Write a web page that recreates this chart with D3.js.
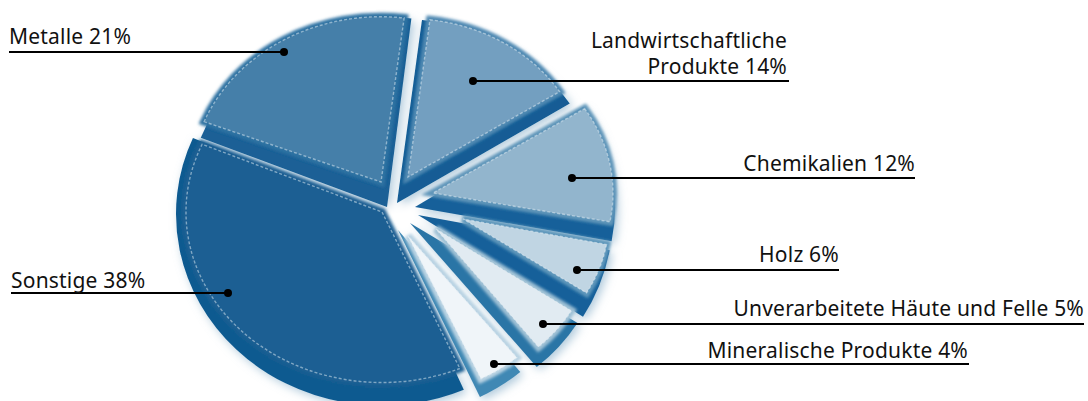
<!DOCTYPE html>
<html>
<head>
<meta charset="utf-8">
<script src="https://cdnjs.cloudflare.com/ajax/libs/d3/7.8.5/d3.min.js"></script>
<style>
html, body { margin: 0; background: #fff; }
svg { display: block; }
text { font-family: "Noto Sans", "Open Sans", sans-serif; font-size: 21px; letter-spacing: 0.2px; fill: #111; }
</style>
</head>
<body>
<svg id="chart" width="1088" height="401"></svg>
<script>
// Shares of the goods groups, clockwise from the top of the pie
const categories = ["Landwirtschaftliche Produkte", "Chemikalien", "Holz", "Unverarbeitete Häute und Felle", "Mineralische Produkte", "Sonstige", "Metalle"];
const shares = [14, 12, 6, 5, 4, 38, 21];
const labelLines = [["Landwirtschaftliche", "Produkte"], ["Chemikalien"], ["Holz"], ["Unverarbeitete Häute und Felle"], ["Mineralische Produkte"], ["Sonstige"], ["Metalle"]];

const faceColors = ["#739fc0", "#92b5cd", "#c0d5e3", "#e1ebf2", "#f0f5f9", "#1a5f93", "#457fa9"];
const edgeColors = ["#125c95", "#15609a", "#15609a", "#2a75a6", "#3f88b4", "#0f5a90", "#1a6096"];
const haloColors = ["#4f89b2", "#5e95b9", "#5f97bb", "#9fc1d6", "#b9d3e3", "#1a5f93", "#2f72a2"];

// Each slice is pulled out on its own: face and bevel have separate origins
const faces = [
  { x: 408, y: 177, r: 180, sy: 0.88, tilt: 0 },
  { x: 433, y: 193, r: 180, sy: 0.87, tilt: 0 },
  { x: 463, y: 219, r: 146, sy: 0.95, tilt: 0 },
  { x: 436, y: 229, r: 160, sy: 0.96, tilt: 0 },
  { x: 408, y: 236, r: 170, sy: 0.93, tilt: 0 },
  { x: 382, y: 212, r: 196, sy: 0.87, tilt: 2 },
  { x: 381, y: 182, r: 190, sy: 0.87, tilt: 0 }
];
const bevels = [
  { x: 397, y: 203, r: 205, sy: 0.90, tilt: 0 },
  { x: 415, y: 207, r: 200, sy: 0.93, tilt: 0 },
  { x: 418, y: 215, r: 195, sy: 0.98, tilt: 0 },
  { x: 410, y: 223, r: 198, sy: 0.947, tilt: 0 },
  { x: 398, y: 230, r: 191, sy: 0.968, tilt: 0 },
  { x: 382, y: 214, r: 206, sy: 0.93, tilt: 2 },
  { x: 387, y: 207, r: 200, sy: 0.95, tilt: 0 }
];

// Callouts: marker position, far end of the leader, first text baseline
const callouts = [
  { dot: [473, 81], end: 789, anchor: "end", tx: 787, ty: [48, 74] },
  { dot: [572, 178], end: 915, anchor: "end", tx: 915, ty: [171] },
  { dot: [577, 270], end: 839, anchor: "end", tx: 839, ty: [262] },
  { dot: [543, 324], end: 1084, anchor: "end", tx: 1084, ty: [316] },
  { dot: [494, 364], end: 969, anchor: "end", tx: 968, ty: [358] },
  { dot: [228, 293], end: 11, anchor: "start", tx: 11, ty: [288] },
  { dot: [284, 52], end: 9, anchor: "start", tx: 9, ty: [44] }
];

const svg = d3.select("#chart");
const defs = svg.append("defs");
const blur = (id, sd) => defs.append("filter").attr("id", id)
  .attr("x", "-30%").attr("y", "-30%").attr("width", "160%").attr("height", "160%")
  .append("feGaussianBlur").attr("stdDeviation", sd);
blur("glow", 5);
blur("halo", 1.8);
blur("soft", 0.45);

const startAngle = 7 * Math.PI / 180;
const pie = d3.pie().sort(null).startAngle(startAngle).endAngle(startAngle + 2 * Math.PI);
const arcs = pie(shares);
const wedge = d3.arc().innerRadius(0);
const place = p => `translate(${p.x},${p.y}) scale(1,${p.sy}) rotate(${p.tilt})`;
const wedgeOf = (a, p) => wedge({ startAngle: a.startAngle, endAngle: a.endAngle, outerRadius: p.r });

// Pale glow falling to the lower right of the pie
const glow = svg.append("g").attr("filter", "url(#glow)").attr("transform", "translate(3,3)");
glow.selectAll("path").data(arcs).join("path")
  .attr("transform", (d, i) => place(bevels[i]))
  .attr("d", (d, i) => wedgeOf(d, bevels[i]))
  .attr("fill", "#8fb4cd").attr("opacity", 0.7);

// Centre of the pie stays light
glow.append("circle").attr("cx", 391).attr("cy", 216).attr("r", 14).attr("fill", "#fff");

const order = [5, 6, 0, 1, 2, 3, 4];
const pieLayer = svg.append("g").attr("filter", "url(#soft)");
const slices = pieLayer.selectAll("g.slice").data(order).join("g").attr("class", "slice");

slices.append("path")
  .attr("transform", i => place(bevels[i]))
  .attr("d", i => wedgeOf(arcs[i], bevels[i]))
  .attr("fill", i => edgeColors[i]);

// Soft shoulder between bevel and face
slices.append("path")
  .attr("transform", i => place(faces[i]))
  .attr("d", i => wedgeOf(arcs[i], faces[i]))
  .attr("fill", "none")
  .attr("stroke", i => haloColors[i])
  .attr("stroke-width", 8)
  .attr("vector-effect", "non-scaling-stroke")
  .attr("filter", "url(#halo)");

slices.append("path")
  .attr("transform", i => place(faces[i]))
  .attr("d", i => wedgeOf(arcs[i], faces[i]))
  .attr("fill", i => faceColors[i]);

// Broken light rim on each face
slices.append("path")
  .attr("transform", i => place(faces[i]))
  .attr("d", i => wedgeOf(arcs[i], faces[i]))
  .attr("fill", "none")
  .attr("stroke", "#e6f0f6")
  .attr("stroke-opacity", 0.5)
  .attr("stroke-width", 1.4)
  .attr("stroke-dasharray", "3 2")
  .attr("vector-effect", "non-scaling-stroke");

// Leaders, markers and labels
const notes = svg.append("g").selectAll("g").data(arcs).join("g");
notes.append("line")
  .attr("x1", (d, i) => callouts[i].dot[0]).attr("y1", (d, i) => callouts[i].dot[1])
  .attr("x2", (d, i) => callouts[i].end).attr("y2", (d, i) => callouts[i].dot[1])
  .attr("stroke", "#000").attr("stroke-width", 2);
notes.append("circle")
  .attr("cx", (d, i) => callouts[i].dot[0]).attr("cy", (d, i) => callouts[i].dot[1])
  .attr("r", 4).attr("fill", "#000");
notes.each(function (d, i) {
  const c = callouts[i];
  const lines = labelLines[i];
  d3.select(this).selectAll("text").data(lines).join("text")
    .attr("x", c.tx).attr("y", (t, k) => c.ty[k])
    .attr("text-anchor", c.anchor)
    .text((t, k) => k === lines.length - 1 ? `${t} ${shares[i]}%` : t);
});
</script>
</body>
</html>
